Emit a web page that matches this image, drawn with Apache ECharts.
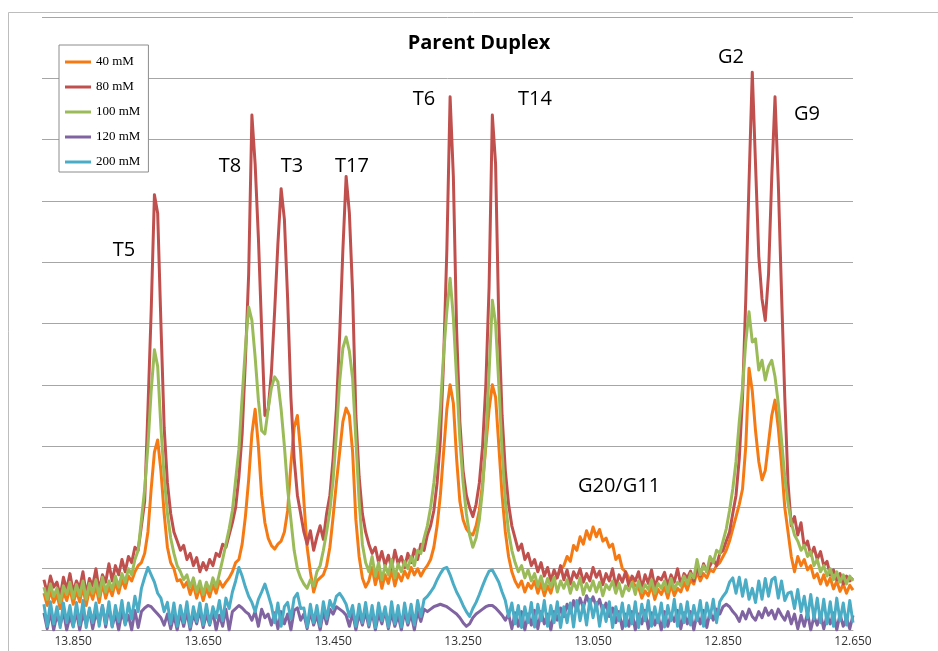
<!DOCTYPE html>
<html>
<head>
<meta charset="utf-8">
<script src="https://cdn.jsdelivr.net/npm/echarts@6/dist/echarts.min.js"></script>
<style>
  html, body { margin: 0; padding: 0; background: #fff; }
  #chart { width: 938px; height: 651px; }
</style>
</head>
<body>
<div id="chart"></div>
<script>
// Imino proton region, sampled every 0.005 ppm from 13.895 ppm down to 12.650 ppm
const ppmStart = 13.895;
const ppmStep = 0.005;

const tickLabels = ['13.850', '13.650', '13.450', '13.250', '13.050', '12.850', '12.650'];
const seriesNames = ['40 mM', '80 mM', '100 mM', '120 mM', '200 mM'];
const peakLabels = ['T5', 'T8', 'T3', 'T17', 'T6', 'T14', 'G20/G11', 'G2', 'G9'];

// Intensities (arbitrary units), one value per ppm sample
const mM40 = [
  0.60,0.40,0.65,0.45,0.58,0.35,0.62,0.48,0.68,0.42,
  0.64,0.46,0.70,0.40,0.66,0.50,0.72,0.45,0.76,0.52,
  0.70,0.56,0.78,0.60,0.82,0.68,0.88,0.80,0.95,1.05,
  1.10,1.25,1.60,2.30,2.90,3.10,2.60,1.90,1.35,1.10,
  1.00,0.80,0.82,0.70,0.78,0.58,0.74,0.52,0.70,0.48,
  0.68,0.54,0.74,0.60,0.80,0.70,0.78,0.85,0.95,1.10,
  1.15,1.40,1.85,2.45,3.20,3.60,3.00,2.20,1.75,1.50,
  1.38,1.32,1.40,1.45,1.60,1.95,2.70,3.30,3.50,2.90,
  2.10,1.35,0.95,0.62,0.80,0.85,0.90,1.05,1.35,1.85,
  2.40,2.90,3.40,3.62,3.50,2.90,1.80,1.20,0.85,0.70,
  0.80,1.02,0.74,0.95,0.68,0.90,0.76,0.98,0.72,0.92,
  0.80,0.96,0.85,1.02,0.90,1.00,0.88,0.98,1.05,1.15,
  1.35,1.70,2.20,2.90,3.60,4.00,3.70,2.80,2.10,1.80,
  1.65,1.58,1.55,1.70,1.95,2.40,3.00,3.60,4.00,3.80,
  3.00,2.20,1.60,1.20,0.95,0.80,0.70,0.80,0.62,0.76,
  0.68,0.80,0.60,0.76,0.56,0.72,0.60,0.80,0.88,0.98,
  1.05,1.20,1.12,1.38,1.30,1.52,1.40,1.62,1.48,1.68,
  1.52,1.64,1.45,1.50,1.35,1.40,1.15,1.22,1.00,0.95,
  0.85,0.80,0.72,0.70,0.52,0.64,0.56,0.72,0.50,0.66,
  0.58,0.70,0.52,0.74,0.56,0.68,0.62,0.78,0.65,0.82,
  0.75,0.95,0.80,0.92,0.85,0.98,0.95,1.05,1.10,1.20,
  1.30,1.45,1.65,1.85,2.05,2.30,3.00,4.27,3.90,3.25,
  2.75,2.45,2.60,3.05,3.50,3.75,3.30,2.70,2.00,1.60,
  1.20,0.95,1.20,1.05,1.15,0.98,1.05,0.85,0.92,0.75,
  0.90,0.73,0.85,0.67,0.80,0.63,0.75,0.60,0.73,0.65
];

const mM80 = [
  0.82,0.60,0.88,0.70,0.78,0.55,0.86,0.66,0.92,0.62,
  0.80,0.68,0.95,0.58,0.84,0.72,1.00,0.64,0.90,0.78,
  1.08,0.80,1.05,0.90,1.15,0.95,1.20,1.10,1.35,1.30,
  1.70,2.10,3.60,5.20,7.10,6.80,5.00,3.30,2.40,1.90,
  1.60,1.45,1.30,1.38,1.15,1.25,1.05,1.18,0.95,1.10,
  0.98,1.15,1.05,1.25,1.20,1.40,1.35,1.55,1.75,2.00,
  2.50,3.20,4.40,5.80,8.40,7.60,6.40,4.90,3.50,3.60,
  4.20,5.20,6.30,7.20,6.70,5.40,3.80,2.80,2.20,1.90,
  1.60,1.40,1.62,1.30,1.52,1.70,1.48,1.90,2.20,2.80,
  3.60,4.80,6.20,7.40,6.80,5.50,3.50,2.50,1.90,1.60,
  1.40,1.25,1.35,1.10,1.28,1.05,1.22,1.00,1.30,1.08,
  1.20,1.02,1.25,1.10,1.32,1.15,1.40,1.30,1.55,1.70,
  1.95,2.40,3.10,4.40,6.20,8.70,7.40,4.90,3.40,2.60,
  2.20,2.00,1.85,2.05,2.40,3.00,4.00,5.60,8.40,7.60,
  5.00,3.50,2.60,2.05,1.70,1.50,1.30,1.40,1.15,1.25,
  1.05,1.15,0.95,1.10,0.88,1.02,0.80,0.98,0.85,1.05,
  0.82,0.98,0.75,0.95,0.85,1.00,0.78,0.92,0.80,1.02,
  0.86,0.96,0.74,0.92,0.80,1.00,0.70,0.90,0.78,0.95,
  0.72,0.88,0.80,0.95,0.68,0.90,0.76,0.98,0.70,0.86,
  0.82,0.94,0.72,0.90,0.78,1.00,0.74,0.92,0.85,0.96,
  0.80,1.02,0.88,1.08,0.95,1.05,1.15,1.05,1.25,1.30,
  1.45,1.60,1.90,2.20,2.80,3.80,5.40,7.30,9.10,7.60,
  6.10,5.40,5.05,5.80,7.40,8.70,7.30,5.50,3.80,2.40,
  1.70,1.85,1.55,1.75,1.35,1.45,1.22,1.35,1.15,1.28,
  1.05,1.12,0.90,0.98,0.82,0.92,0.75,0.88,0.80,0.85
];

const mM100 = [
  0.70,0.50,0.75,0.55,0.68,0.45,0.72,0.58,0.78,0.52,
  0.74,0.56,0.80,0.50,0.76,0.60,0.82,0.55,0.86,0.62,
  0.80,0.66,0.88,0.70,0.92,0.78,1.00,0.90,1.15,1.30,
  1.80,2.30,3.00,3.90,4.57,4.30,3.30,2.50,1.90,1.50,
  1.25,1.05,0.95,0.82,0.90,0.70,0.85,0.62,0.80,0.58,
  0.78,0.64,0.85,0.70,0.92,1.15,1.40,1.65,1.95,2.45,
  2.95,3.80,4.60,5.27,5.05,4.45,3.75,3.25,3.20,3.60,
  3.95,4.13,4.05,3.60,3.00,2.30,1.80,1.30,1.00,0.85,
  0.75,0.68,0.82,0.72,0.95,1.05,1.30,1.60,1.95,2.45,
  3.20,4.05,4.60,4.78,4.55,4.10,3.10,2.10,1.40,1.10,
  0.95,1.20,0.88,1.10,0.82,1.05,0.90,1.15,0.85,1.08,
  0.95,1.12,1.00,1.20,1.05,1.30,1.25,1.50,1.70,2.00,
  2.40,2.90,3.60,4.50,5.20,5.74,5.10,4.10,3.10,2.40,
  1.90,1.55,1.35,1.50,1.80,2.30,3.10,4.20,5.38,5.00,
  4.00,2.90,2.10,1.60,1.30,1.10,0.95,1.05,0.85,0.98,
  0.80,0.92,0.72,0.88,0.66,0.84,0.70,0.86,0.62,0.80,
  0.68,0.82,0.60,0.78,0.66,0.85,0.58,0.76,0.64,0.80,
  0.62,0.78,0.56,0.74,0.66,0.80,0.60,0.76,0.55,0.72,
  0.64,0.78,0.58,0.80,0.62,0.74,0.66,0.82,0.60,0.76,
  0.68,0.80,0.62,0.84,0.66,0.78,0.72,0.88,0.75,0.92,
  0.85,1.15,0.90,1.05,0.95,1.20,1.10,1.30,1.25,1.45,
  1.65,1.95,2.30,2.75,3.40,3.95,4.70,5.19,4.70,4.75,
  4.24,4.40,4.08,4.30,4.40,4.13,3.70,3.10,2.50,2.07,
  1.75,1.55,1.45,1.30,1.38,1.20,1.28,1.05,1.15,0.95,
  1.05,0.88,1.00,0.82,0.95,0.78,0.90,0.75,0.88,0.80
];

const mM120 = [
  0.28,0.02,0.30,0.00,0.25,0.08,0.30,0.00,0.22,0.06,
  0.30,0.00,0.26,0.10,0.32,0.02,0.28,0.12,0.40,0.05,
  0.38,0.06,0.26,0.00,0.30,0.10,0.24,0.00,0.32,0.04,
  0.30,0.36,0.40,0.38,0.32,0.26,0.20,0.08,0.26,0.02,
  0.24,0.00,0.28,0.06,0.30,0.00,0.26,0.10,0.32,0.04,
  0.26,0.08,0.30,0.00,0.24,0.06,0.34,0.00,0.30,0.35,
  0.40,0.36,0.30,0.26,0.16,0.30,0.06,0.34,0.20,0.26,
  0.08,0.28,0.02,0.30,0.10,0.26,0.00,0.32,0.36,0.16,
  0.26,0.02,0.30,0.08,0.24,0.00,0.30,0.10,0.34,0.26,
  0.38,0.34,0.30,0.24,0.06,0.28,0.00,0.26,0.08,0.30,
  0.05,0.30,0.00,0.26,0.10,0.32,0.02,0.28,0.06,0.24,
  0.00,0.30,0.08,0.26,0.00,0.30,0.14,0.34,0.30,0.34,
  0.38,0.40,0.42,0.40,0.38,0.34,0.30,0.26,0.20,0.12,
  0.06,0.10,0.20,0.26,0.30,0.34,0.38,0.40,0.40,0.36,
  0.30,0.24,0.16,0.26,0.02,0.28,0.06,0.30,0.00,0.26,
  0.08,0.32,0.02,0.30,0.10,0.26,0.00,0.30,0.16,0.36,
  0.22,0.42,0.28,0.48,0.32,0.52,0.36,0.56,0.42,0.54,
  0.38,0.50,0.30,0.44,0.22,0.36,0.12,0.30,0.02,0.26,
  0.06,0.30,0.00,0.26,0.10,0.32,0.02,0.28,0.08,0.24,
  0.00,0.30,0.06,0.26,0.14,0.32,0.02,0.28,0.10,0.30,
  0.00,0.26,0.10,0.32,0.04,0.30,0.16,0.34,0.26,0.38,
  0.42,0.38,0.30,0.24,0.14,0.30,0.18,0.34,0.22,0.16,
  0.30,0.20,0.36,0.24,0.32,0.18,0.34,0.24,0.16,0.30,
  0.10,0.26,0.02,0.24,0.06,0.28,0.00,0.22,0.08,0.26,
  0.02,0.24,0.10,0.28,0.00,0.26,0.06,0.20,0.02,0.24
];

const mM200 = [
  0.42,0.06,0.46,0.10,0.38,0.04,0.44,0.12,0.40,0.05,
  0.45,0.08,0.48,0.04,0.36,0.12,0.44,0.06,0.40,0.10,
  0.46,0.05,0.40,0.14,0.48,0.08,0.44,0.18,0.55,0.30,
  0.68,0.86,1.02,0.90,0.78,0.60,0.52,0.30,0.45,0.10,
  0.44,0.06,0.40,0.12,0.46,0.05,0.38,0.14,0.44,0.08,
  0.42,0.10,0.38,0.20,0.48,0.15,0.52,0.35,0.62,0.80,
  1.02,0.88,0.70,0.55,0.45,0.30,0.50,0.62,0.75,0.58,
  0.40,0.12,0.44,0.06,0.38,0.45,0.18,0.52,0.60,0.35,
  0.36,0.05,0.42,0.12,0.40,0.06,0.46,0.18,0.48,0.35,
  0.55,0.60,0.52,0.42,0.22,0.40,0.06,0.42,0.12,0.45,
  0.08,0.40,0.04,0.44,0.15,0.38,0.05,0.46,0.10,0.40,
  0.05,0.44,0.12,0.42,0.08,0.48,0.22,0.50,0.55,0.62,
  0.70,0.82,0.92,1.00,1.02,0.90,0.75,0.62,0.52,0.40,
  0.30,0.22,0.35,0.45,0.58,0.72,0.85,0.96,0.98,0.88,
  0.78,0.62,0.48,0.22,0.44,0.10,0.40,0.04,0.38,0.12,
  0.45,0.05,0.42,0.15,0.48,0.06,0.40,0.12,0.46,0.04,
  0.38,0.12,0.44,0.05,0.48,0.15,0.42,0.08,0.50,0.20,
  0.45,0.06,0.40,0.14,0.46,0.04,0.38,0.15,0.44,0.06,
  0.40,0.10,0.46,0.04,0.42,0.15,0.48,0.06,0.38,0.12,
  0.44,0.05,0.40,0.15,0.50,0.06,0.42,0.12,0.46,0.08,
  0.40,0.15,0.48,0.06,0.44,0.20,0.50,0.12,0.46,0.55,
  0.62,0.78,0.85,0.60,0.86,0.55,0.82,0.50,0.68,0.45,
  0.80,0.50,0.84,0.55,0.82,0.86,0.52,0.80,0.48,0.60,
  0.62,0.35,0.66,0.30,0.55,0.20,0.58,0.18,0.52,0.12,
  0.50,0.10,0.46,0.06,0.52,0.15,0.44,0.08,0.48,0.12
];

const seriesValues = [mM40, mM80, mM100, mM120, mM200];
const seriesColors = ['#F57A14', '#C0504D', '#9BBB59', '#8064A2', '#4BACC6'];

const ppm = mM40.map((_, i) => +(ppmStart - i * ppmStep).toFixed(3));
const tickValues = tickLabels.map(Number);

const labelFont = '20px "Open Sans", sans-serif';
// pixel anchors of the peak assignment labels
const peakLabelPos = [
  [124, 250], [230, 166], [292, 166], [352, 166],
  [424, 99], [535, 99], [619, 486], [731, 57], [807, 114]
];

const chart = echarts.init(document.getElementById('chart'), null, { renderer: 'canvas' });

const series = seriesNames.map((name, k) => ({
  name: name,
  type: 'line',
  showSymbol: false,
  symbol: 'none',
  animation: false,
  data: seriesValues[k].map((v, i) => [ppm[i], v]),
  lineStyle: { width: 3, color: seriesColors[k], join: 'round' },
  itemStyle: { color: seriesColors[k] },
  emphasis: { disabled: true }
}));

const graphics = [
  {
    type: 'polyline',
    silent: true,
    shape: { points: [[8.5, 651], [8.5, 12.5], [938, 12.5]] },
    style: { stroke: '#BDBDBD', lineWidth: 1, fill: null }
  },
  {
    type: 'text',
    silent: true,
    style: {
      text: 'Parent Duplex', x: 479, y: 43,
      align: 'center', verticalAlign: 'middle',
      textAlign: 'center', textVerticalAlign: 'middle',
      font: 'bold 20px "Open Sans", sans-serif', fill: '#000'
    }
  }
].concat(peakLabels.map((t, j) => ({
  type: 'text',
  silent: true,
  z: 10,
  style: {
    text: t, x: peakLabelPos[j][0], y: peakLabelPos[j][1],
    align: 'center', verticalAlign: 'middle',
    textAlign: 'center', textVerticalAlign: 'middle',
    font: labelFont, fill: '#000'
  }
})));

chart.setOption({
  animation: false,
  backgroundColor: '#fff',
  grid: { left: 42, right: 85, top: 17, bottom: 21, containLabel: false },
  xAxis: {
    type: 'value',
    inverse: true,
    min: 12.65,
    max: 13.898,
    axisLine: { show: true, lineStyle: { color: '#A6A6A6', width: 1 } },
    axisTick: { show: false, customValues: tickValues },
    splitLine: { show: false },
    axisLabel: {
      customValues: tickValues,
      formatter: v => tickLabels[tickValues.indexOf(+(+v).toFixed(3))] || (+v).toFixed(3),
      margin: 6,
      fontFamily: '"Open Sans", sans-serif',
      fontSize: 12,
      color: '#333'
    }
  },
  yAxis: {
    type: 'value',
    min: 0,
    max: 10,
    interval: 1,
    axisLine: { show: false },
    axisTick: { show: false },
    axisLabel: { show: false },
    splitLine: { show: true, lineStyle: { color: '#A6A6A6', width: 1 } }
  },
  legend: {
    data: seriesNames,
    orient: 'vertical',
    left: 59,
    top: 45,
    padding: [10, 8, 3, 6],
    itemGap: 11,
    itemWidth: 26,
    itemHeight: 3,
    icon: 'rect',
    selectedMode: false,
    borderColor: '#8C8C8C',
    borderWidth: 1,
    backgroundColor: '#fff',
    textStyle: {
      fontFamily: '"Liberation Serif", serif',
      fontSize: 13,
      lineHeight: 14,
      color: '#000'
    }
  },
  graphic: graphics,
  series: series
});
</script>
</body>
</html>
